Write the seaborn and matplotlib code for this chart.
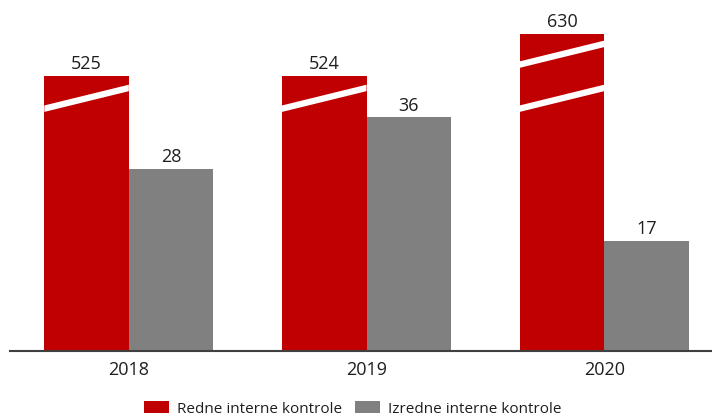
import numpy as np
import pandas as pd
import matplotlib
matplotlib.use("Agg")
import matplotlib.pyplot as plt
import seaborn as sns

# Data
years = ["2018", "2019", "2020"]
redne = [525, 524, 630]
izredne = [28, 36, 17]
series_names = ["Redne interne kontrole", "Izredne interne kontrole"]

df = pd.DataFrame({
    "Leto": years * 2,
    "Število": redne + izredne,
    "Vrsta": [series_names[0]] * 3 + [series_names[1]] * 3,
})

RED = "#C00000"
GREY = "#808080"
TEXT = "#1e1e1e"

sns.set_theme(style="white")
plt.rcParams["font.family"] = ["Open Sans", "DejaVu Sans"]

fig = plt.figure(figsize=(7.12, 4.17), dpi=100)
ax = fig.add_axes([10 / 712, (417 - 350.7) / 417, 713 / 712, 324 / 417])

# Broken value axis: linear up to 40, squeezed between 40 and 500, compressed above 500
_xk = np.array([-1000.0, 40.0, 500.0, 10000.0])
_yk = np.array([-1000.0, 40.0, 40.927, 40.927 + 9500 * 0.06083])


def _fwd(v):
    return np.interp(v, _xk, _yk)


def _inv(y):
    return np.interp(y, _yk, _xk)


ax.set_yscale("function", functions=(_fwd, _inv))

sns.barplot(data=df, x="Leto", y="Število", hue="Vrsta", palette=[RED, GREY],
            width=0.711, gap=0, linewidth=0, saturation=1, ax=ax, legend=True)

ax.set_xlim(-0.5, 2.5)
ax.set_ylim(0, _inv(50))

# Value labels
for cont in ax.containers:
    ax.bar_label(cont, fmt="%d", padding=2, fontsize=13, color=TEXT)

# White break slashes across the red bars
trans = ax.get_xaxis_transform()
_, ytop = ax.get_ylim()
break_levels = [0.779, 0.915]
rise = 0.032
thick = 0.02
for patch in ax.containers[0]:
    x0 = patch.get_x()
    x1 = x0 + patch.get_width()
    top_frac = _fwd(patch.get_height()) / _fwd(ytop)
    for c in break_levels:
        if c + rise + thick < top_frac:
            ax.fill([x0, x1, x1, x0],
                    [c - rise - thick / 2, c + rise - thick / 2,
                     c + rise + thick / 2, c - rise + thick / 2],
                    color="white", lw=0, transform=trans, zorder=5)

# Axes styling
for side in ["left", "right", "top"]:
    ax.spines[side].set_visible(False)
ax.spines["bottom"].set_color("#404040")
ax.spines["bottom"].set_linewidth(1.5)
ax.set_yticks([])
ax.set_xlabel("")
ax.set_ylabel("")
ax.tick_params(axis="x", length=0, pad=7.5, labelsize=13, labelcolor=TEXT)

handles, labels = ax.get_legend_handles_labels()
ax.get_legend().remove()
fig.legend(handles, labels, loc="center", bbox_to_anchor=(352.5 / 712, 8 / 417),
           ncol=2, frameon=False, fontsize=11, handlelength=1.63, handleheight=0.82,
           handletextpad=0.52, columnspacing=0.85, borderpad=0, labelcolor=TEXT)

fig.savefig("out.png", dpi=100)
